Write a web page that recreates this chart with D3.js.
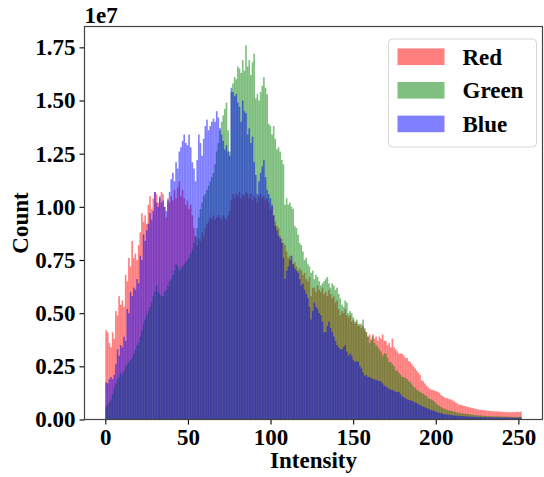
<!DOCTYPE html>
<html>
<head>
<meta charset="utf-8">
<script src="https://cdn.jsdelivr.net/npm/d3@7"></script>
<style>
body{margin:0;background:#fff;}
svg{display:block;}
text{font-family:"Liberation Serif","Times New Roman",serif;font-weight:bold;}
</style>
</head>
<body>
<svg id="chart"></svg>
<script>
// pixel counts per intensity bin, in millions (256 bins spanning 0..252)
const redCounts = [
  4.2,4.1,3.6,3.4,4.1,3.8,5.1,4.9,5.8,5.4,5.6,5.3,6.8,6.5,7.6,7.2,
  8.4,7.6,7.8,7.5,8.2,8.8,9.7,9.3,9.6,9.2,10.1,10.5,9.9,10.4,10.7,10.6,
  10.2,10.4,10.7,10.6,10.0,9.5,10.4,10.2,10.5,10.3,10.8,10.4,10.9,11.2,10.5,10.8,
  10.4,10.1,10.3,9.9,10.1,9.6,9.0,8.6,8.2,8.5,8.4,8.8,8.6,9.0,9.2,9.3,
  9.5,9.4,9.6,9.4,9.5,9.6,9.5,9.4,9.6,9.5,9.4,9.6,9.8,10.3,10.6,10.4,
  10.6,10.5,10.7,10.4,10.6,10.5,10.7,10.6,10.4,10.6,10.3,10.5,10.4,10.2,10.5,10.6,
  10.4,10.5,10.3,10.4,10.2,9.9,10.0,9.6,9.3,9.1,9.0,8.6,8.5,8.3,8.2,7.9,
  7.6,7.7,7.5,7.3,7.4,7.2,7.0,7.1,7.0,6.8,6.9,6.6,6.5,6.7,5.8,6.2,
  6.2,6.0,6.3,6.1,6.0,6.2,5.9,6.0,5.8,6.1,5.9,5.7,5.8,5.5,5.6,5.2,
  4.9,5.1,5.0,5.2,4.9,4.8,4.9,4.6,4.7,4.5,4.6,4.4,4.5,4.3,4.4,4.2,
  4.1,3.9,4.0,3.8,4.0,3.8,3.9,3.7,3.9,3.8,4.0,3.7,3.7,3.5,3.6,3.4,
  3.8,3.4,3.3,3.2,3.1,3.1,3.1,3.0,2.9,2.9,2.75,2.7,2.6,2.5,2.4,2.3,
  2.2,2.1,1.85,1.8,1.7,1.6,1.5,1.45,1.4,1.4,1.35,1.33,1.3,1.25,1.15,1.1,
  1.05,1.0,1.0,0.95,0.95,0.9,0.85,0.8,0.75,0.7,0.7,0.66,0.64,0.63,0.6,0.58,
  0.56,0.55,0.53,0.5,0.48,0.47,0.46,0.45,0.44,0.44,0.42,0.41,0.4,0.39,0.39,0.38,
  0.38,0.38,0.37,0.36,0.36,0.35,0.35,0.34,0.35,0.34,0.35,0.34,0.35,0.36,0.35,0.37
];
const greenCounts = [
  0.6,0.7,0.8,0.95,1.2,1.5,1.7,1.9,2.0,2.2,2.1,2.3,2.5,2.6,2.7,2.8,
  2.9,3.1,3.3,3.5,3.6,3.9,4.2,4.5,4.7,4.9,5.1,5.3,5.5,5.8,6.0,6.3,
  6.0,5.9,5.8,5.8,6.0,6.1,6.3,6.5,6.6,6.8,7.0,7.3,7.2,7.0,7.1,7.2,
  7.3,7.4,7.5,7.6,7.8,8.0,8.3,8.6,9.0,9.5,9.9,10.2,10.5,10.6,10.8,11.0,
  11.2,11.4,11.6,12.0,12.6,13.0,13.6,14.0,14.3,14.6,14.9,13.6,12.6,15.4,15.8,16.1,
  16.0,16.6,16.5,16.3,16.9,16.4,17.6,16.6,16.9,16.2,16.8,17.2,15.1,15.3,15.0,15.4,
  15.7,16.1,15.6,15.3,13.9,13.8,13.4,13.8,13.2,12.7,12.8,12.6,12.2,12.0,10.1,10.4,
  10.1,10.2,10.0,9.9,9.1,9.0,8.7,8.3,8.2,7.9,7.5,7.6,7.3,7.2,6.9,7.0,
  6.6,6.8,6.7,6.5,6.3,6.4,6.5,6.6,6.7,6.4,6.2,6.4,6.3,6.1,6.2,5.9,
  5.7,5.4,5.3,5.6,5.5,5.0,5.1,5.0,4.8,4.6,4.7,4.5,4.4,4.5,4.7,4.3,
  4.1,3.9,3.6,3.7,3.9,3.6,3.5,3.4,3.3,3.2,3.0,3.1,3.1,2.9,2.7,2.7,
  2.6,2.5,2.3,2.3,2.2,2.1,2.0,2.0,1.95,1.9,1.8,1.75,1.65,1.55,1.5,1.4,
  1.35,1.3,1.25,1.2,1.15,1.1,1.0,0.97,0.94,0.9,0.82,0.75,0.68,0.63,0.58,0.53,
  0.5,0.47,0.45,0.43,0.41,0.39,0.37,0.35,0.33,0.31,0.3,0.29,0.28,0.27,0.26,0.25,
  0.24,0.23,0.22,0.21,0.2,0.19,0.19,0.18,0.18,0.17,0.17,0.16,0.16,0.15,0.15,0.15,
  0.15,0.14,0.14,0.14,0.14,0.14,0.13,0.13,0.13,0.13,0.12,0.12,0.12,0.12,0.12,0.13
];
const blueCounts = [
  1.75,1.7,1.9,2.0,1.9,2.1,2.6,3.3,3.0,3.5,3.4,3.9,3.7,5.2,5.0,6.0,
  5.8,6.2,6.1,6.6,6.4,7.7,7.5,8.7,8.4,8.9,9.2,9.7,9.4,9.8,10.7,10.2,
  10.0,10.5,10.2,10.3,10.0,9.8,10.3,10.7,11.3,11.6,11.2,12.1,11.8,12.6,12.8,13.1,
  13.4,13.0,12.9,13.4,12.8,12.1,11.8,11.2,12.2,13.4,13.0,12.4,13.2,13.8,14.1,13.6,
  13.8,14.0,14.15,14.0,14.5,14.2,13.7,13.4,13.1,12.7,12.9,12.6,12.4,15.6,15.4,15.2,
  15.3,14.9,14.7,14.0,15.0,14.5,14.4,13.4,13.7,13.0,13.3,12.1,11.5,10.6,11.2,11.6,
  11.9,12.2,11.4,10.8,10.6,10.4,10.1,9.6,9.1,8.9,8.65,8.5,8.3,7.6,6.6,7.0,
  7.2,7.5,7.7,7.3,7.1,7.0,6.9,6.6,6.3,6.4,6.1,5.9,5.7,5.3,4.7,5.1,
  5.5,5.3,5.2,5.0,4.9,4.6,4.1,4.1,4.4,4.6,4.3,4.1,3.9,3.7,3.5,3.4,
  3.3,3.3,3.4,3.5,3.2,3.0,3.1,3.0,2.8,2.7,2.75,2.7,2.5,2.4,2.2,2.05,
  2.1,2.0,2.0,1.95,1.9,1.9,1.85,1.85,1.8,1.8,1.7,1.6,1.55,1.5,1.45,1.4,
  1.4,1.35,1.3,1.3,1.3,1.2,1.1,1.05,1.0,0.95,0.92,0.9,0.88,0.84,0.8,0.77,
  0.72,0.68,0.64,0.6,0.57,0.54,0.5,0.47,0.44,0.42,0.4,0.36,0.33,0.31,0.29,0.27,
  0.25,0.24,0.23,0.22,0.21,0.2,0.19,0.18,0.18,0.17,0.16,0.16,0.15,0.15,0.14,0.14,
  0.13,0.13,0.13,0.12,0.12,0.12,0.11,0.11,0.11,0.11,0.1,0.1,0.1,0.1,0.1,0.1,
  0.1,0.1,0.09,0.09,0.09,0.09,0.09,0.09,0.09,0.08,0.08,0.08,0.08,0.08,0.08,0.08
];
const seriesNames = ["Red", "Green", "Blue"];
const seriesColors = ["#ff0000", "#008000", "#0000ff"];
const binRange = [0, 252];
const xTicks = [0, 50, 100, 150, 200, 250];
const yTicks = [0, 2.5, 5, 7.5, 10, 12.5, 15, 17.5];   // millions

const width = 544, height = 477;
const margin_left = 84.5, margin_right = 1.5, margin_top = 26.5, margin_bottom = 57.5;
const plotW = width - margin_left - margin_right;
const plotH = height - margin_top - margin_bottom;
const fontPx = "23px";

const svg = d3.select("#chart").attr("width", width).attr("height", height)
    .style("background-color", "#fff");

const nBins = redCounts.length;
const binW = (binRange[1] - binRange[0]) / nBins;
const pad = (binRange[1] - binRange[0]) * 0.05;
const yMax = d3.max([redCounts, greenCounts, blueCounts].flat()) * 1.05;

const x = d3.scaleLinear().domain([binRange[0] - pad, binRange[1] + pad]).range([0, plotW]);
const y = d3.scaleLinear().domain([0, yMax]).range([plotH, 0]);

const g = svg.append("g").attr("transform", "translate(" + margin_left + "," + margin_top + ")");

// bars, drawn in series order with half alpha so overlaps blend
[redCounts, greenCounts, blueCounts].forEach(function(counts, k) {
    g.append("g")
        .selectAll("rect")
        .data(counts)
        .enter()
        .append("rect")
        .attr("x", function(d, i) { return x(binRange[0] + i * binW); })
        .attr("width", function(d, i) { return x(binRange[0] + (i + 1) * binW) - x(binRange[0] + i * binW); })
        .attr("y", function(d) { return y(d); })
        .attr("height", function(d) { return y(0) - y(d); })
        .attr("fill", seriesColors[k])
        .attr("fill-opacity", 0.5);
});

const xAxis = g.append("g")
    .attr("transform", "translate(0," + plotH + ")")
    .call(d3.axisBottom(x).tickValues(xTicks).tickSize(5).tickSizeOuter(0).tickPadding(4));
const yAxis = g.append("g")
    .call(d3.axisLeft(y).tickValues(yTicks).tickSize(5).tickSizeOuter(0).tickPadding(4)
        .tickFormat(function(d) { return (d / 10).toFixed(2); }));

[xAxis, yAxis].forEach(function(ax) {
    ax.selectAll("text").style("font-size", fontPx).attr("fill", "#000")
        .style("font-family", "'Liberation Serif', serif").style("font-weight", "bold");
    ax.selectAll("line").attr("stroke", "#000").attr("stroke-width", 1.1);
    ax.select(".domain").remove();
});

// spines
g.append("rect")
    .attr("x", 0).attr("y", 0).attr("width", plotW).attr("height", plotH)
    .attr("fill", "none").attr("stroke", "#444").attr("stroke-width", 1.2);

// exponent label
g.append("text")
    .attr("x", 0).attr("y", -3.5)
    .style("font-size", fontPx)
    .text("1e7");

g.append("text")
    .attr("x", plotW / 2).attr("y", plotH + 48)
    .attr("text-anchor", "middle")
    .style("font-size", fontPx)
    .text("Intensity");

g.append("text")
    .attr("transform", "translate(" + (-57) + "," + (plotH / 2) + ") rotate(-90)")
    .attr("text-anchor", "middle")
    .style("font-size", fontPx)
    .text("Count");

// legend
const legend = g.append("g").attr("transform", "translate(" + (plotW - 154) + ",12.5)");
legend.append("rect")
    .attr("width", 148).attr("height", 108).attr("rx", 4)
    .attr("fill", "#fff").attr("fill-opacity", 0.8)
    .attr("stroke", "#d6d6d6").attr("stroke-width", 1);
seriesNames.forEach(function(name, k) {
    const row = legend.append("g").attr("transform", "translate(0," + (17.7 + k * 33.6) + ")");
    row.append("rect")
        .attr("x", 9).attr("y", -8.3).attr("width", 47).attr("height", 16.6)
        .attr("fill", seriesColors[k]).attr("fill-opacity", 0.5);
    row.append("text")
        .attr("x", 74).attr("y", 8)
        .style("font-size", fontPx)
        .text(name);
});
</script>
</body>
</html>
